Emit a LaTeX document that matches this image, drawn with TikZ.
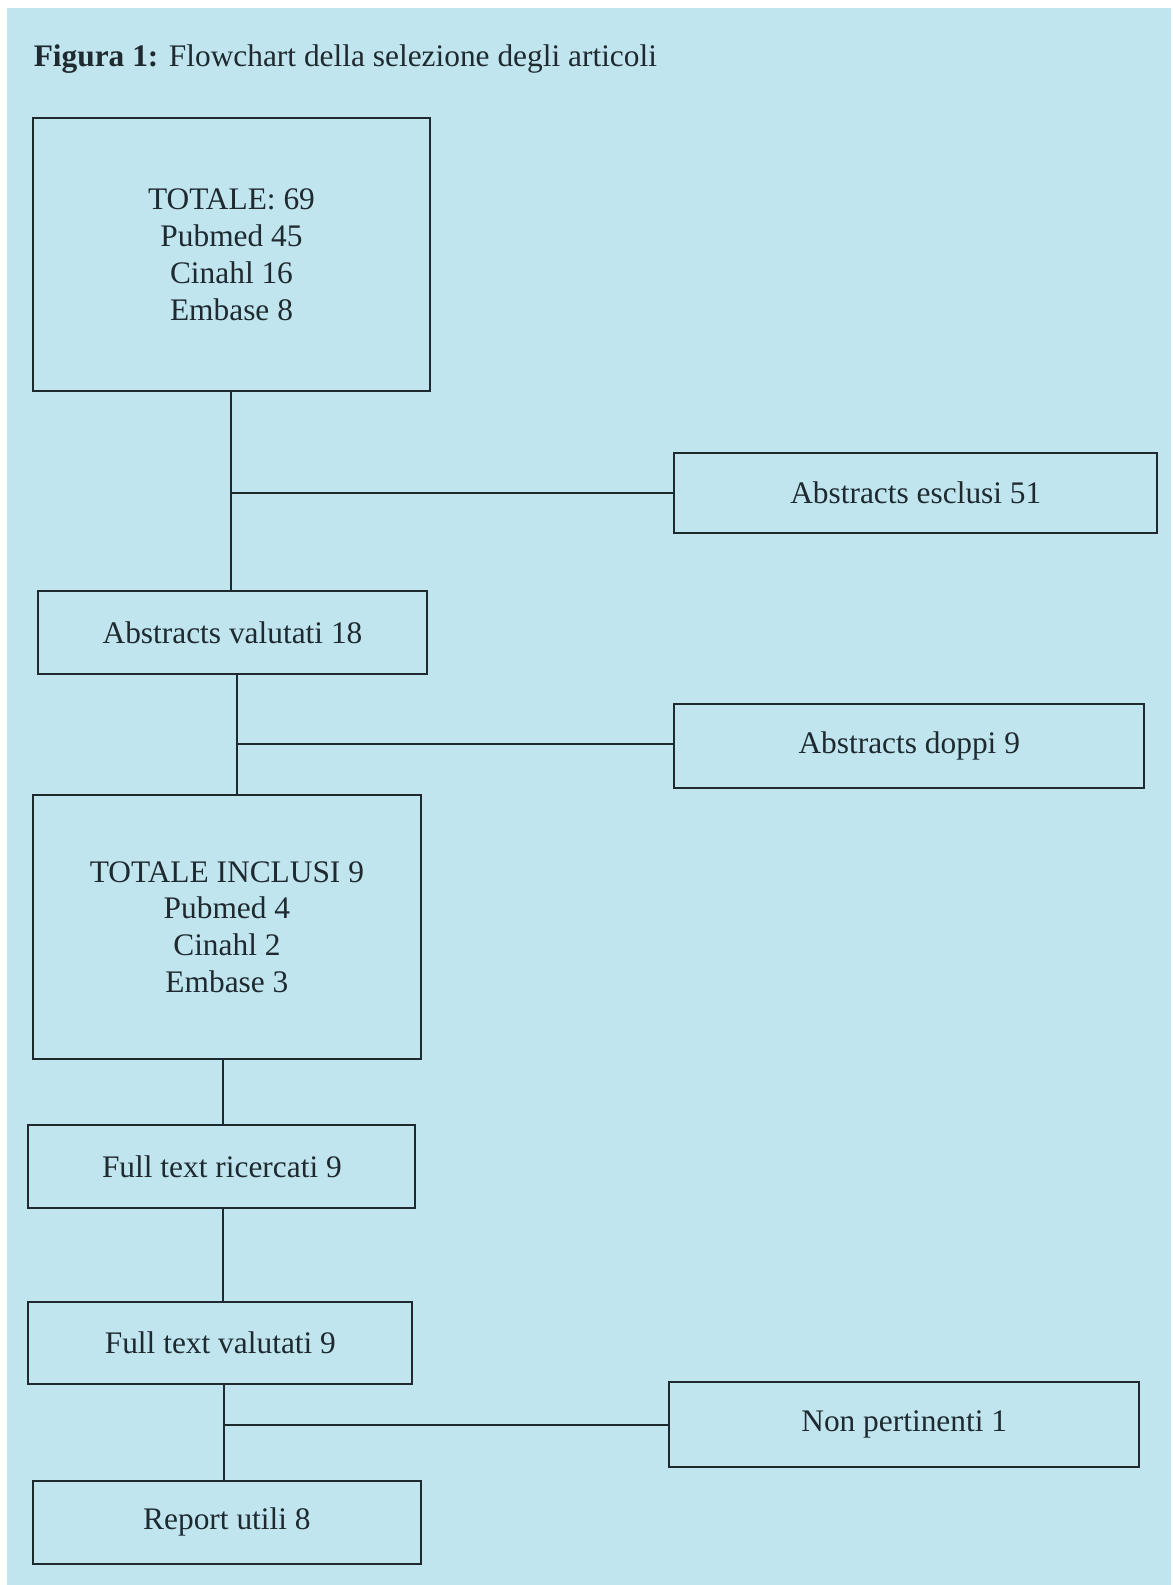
\documentclass[tikz,border=0pt]{standalone}
\usepackage{fontspec}
\setmainfont{Liberation Serif}
\definecolor{bgblue}{RGB}{193,229,238}
\definecolor{ink}{RGB}{30,42,48}
\newcommand{\uu}{0.5056pt}
\begin{document}
\begin{tikzpicture}[x=0.5056pt,y=-0.5056pt,
  box/.style={draw=ink, line width=1pt, inner sep=0pt, align=center, text=ink,
    font=\fontsize{15.7pt}{18.4pt}\selectfont},
  conn/.style={draw=ink, line width=1pt}]
\useasboundingbox (0,0) rectangle (1160,1568);
\fill[bgblue] (7,8) rectangle (1158,1568);
\node[anchor=base west, inner sep=0pt, text=ink, font=\fontsize{15.7pt}{18.4pt}\selectfont] (title) at (33,66) {\textbf{Figura 1:} Flowchart della selezione degli articoli};
% boxes
\node[box, minimum width=392*\uu, minimum height=270*\uu] (b1) at (229,252) {TOTALE: 69\\Pubmed 45\\Cinahl 16\\Embase 8};
\node[box, minimum width=478*\uu, minimum height=79*\uu] (esc) at (906,487.5) {Abstracts esclusi 51};
\node[box, minimum width=384*\uu, minimum height=82*\uu] (b2) at (230,626) {Abstracts valutati 18};
\node[box, minimum width=465*\uu, minimum height=84*\uu] (dop) at (899.5,738) {Abstracts doppi 9};
\node[box, minimum width=383*\uu, minimum height=262*\uu] (b3) at (224.5,917) {TOTALE INCLUSI 9\\Pubmed 4\\Cinahl 2\\Embase 3};
\node[box, minimum width=383*\uu, minimum height=82*\uu] (b4) at (219.5,1154) {Full text ricercati 9};
\node[box, minimum width=380*\uu, minimum height=81*\uu] (b5) at (218,1328.5) {Full text valutati 9};
\node[box, minimum width=465*\uu, minimum height=84*\uu] (np) at (894.5,1409) {Non pertinenti 1};
\node[box, minimum width=383*\uu, minimum height=82*\uu] (b6) at (224.5,1506) {Report utili 8};
% junctions
\coordinate (j1) at (229,488);
\coordinate (j2) at (234,736);
\coordinate (j3) at (221,1080);
\coordinate (j4) at (221,1240);
\coordinate (j5) at (222,1410);
% connectors
\draw[conn] (j1 |- b1.south) -- (j1 |- b2.north);
\draw[conn] (j1) -- (esc.west |- j1);
\draw[conn] (j2 |- b2.south) -- (j2 |- b3.north);
\draw[conn] (j2) -- (dop.west |- j2);
\draw[conn] (j3 |- b3.south) -- (j3 |- b4.north);
\draw[conn] (j4 |- b4.south) -- (j4 |- b5.north);
\draw[conn] (j5 |- b5.south) -- (j5 |- b6.north);
\draw[conn] (j5) -- (np.west |- j5);
\end{tikzpicture}
\end{document}
